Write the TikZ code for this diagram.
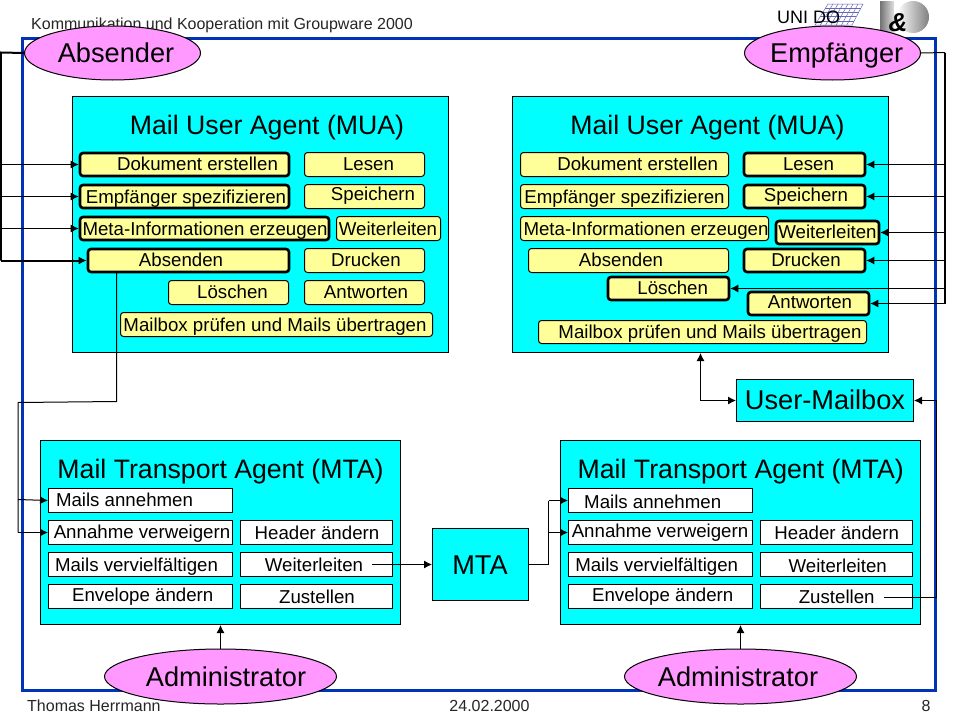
\documentclass[tikz,border=0pt]{standalone}
\usepackage{fontspec}
\setmainfont{Liberation Sans}
\usetikzlibrary{arrows.meta,fit,shapes.geometric}
\definecolor{agentc}{HTML}{00FFFF}
\definecolor{taskc}{HTML}{FFFF99}
\definecolor{actorc}{HTML}{FF99FF}
\definecolor{framec}{HTML}{0033B8}
\newcommand\bx[9]{\node[#6,fit={(#2,#3)(#4,#5)}] (#1) {}; \node[lbl] (#1-t) at (#7,#8) {#9};}
\newcommand\actor[7]{\node[actorbox,minimum width=#4,minimum height=#5] (#1) at (#2,#3) {}; \node[bigger] (#1-t) at (#6,#3) {#7};}
\tikzset{
 lbl/.style={inner sep=0pt,text height=13.4pt,text depth=0pt,font=\fontsize{18.67}{22}\selectfont},
 big/.style={inner sep=0pt,text height=19.1pt,text depth=0pt,font=\fontsize{26.67}{31}\selectfont},
 bigger/.style={inner sep=0pt,text height=19.5pt,text depth=0pt,font=\fontsize{27.2}{31}\selectfont},
 foot/.style={inner sep=0pt,text height=11.5pt,text depth=0pt,font=\fontsize{16}{19}\selectfont,text=black!85},
 agent/.style={draw=black,fill=agentc,line width=1pt,inner sep=0pt},
 task/.style={draw=black,fill=taskc,line width=1pt,rounded corners=3pt,inner sep=0pt},
 hot/.style={draw=black,fill=taskc,line width=2.6pt,rounded corners=3pt,inner sep=0pt},
 plain/.style={draw=black,fill=white,line width=1pt,inner sep=0pt},
 actorbox/.style={ellipse,draw=black,fill=actorc,line width=1pt,inner sep=0pt},
 wire/.style={draw=black,line width=1pt},
 wirefat/.style={draw=black,line width=2pt},
 arr/.style={-{Latex[length=8pt,width=8pt]}},
}
\begin{document}
\begin{tikzpicture}[x=1pt,y=-1pt]
\useasboundingbox (0,0) rectangle (960,720);
\fill[white] (0,0) rectangle (960,720);
% page furniture
\node[foot,anchor=west] (head) at (31,24) {Kommunikation und Kooperation mit Groupware 2000};
\node[foot,anchor=west] (author) at (27,706) {Thomas Herrmann};
\node[foot] (date) at (489.5,706) {24.02.2000};
\node[foot] (pageno) at (926,706) {8};
% logos
\fill[white,draw=black!45!blue!60,line width=.5pt] (828,4)--(863,4)--(852,25)--(815,25)--cycle;
\foreach \i in {1,...,6}{\draw[black!45!blue!60,line width=.5pt] (828+5*\i,4)--(815+5.3*\i,25);}
\foreach \i in {1,...,4}{\draw[black!45!blue!60,line width=.5pt] (828-2.6*\i,4+4.2*\i)--(863-2.2*\i,4+4.2*\i);}
\node[inner sep=0pt,text height=13pt,text depth=0pt,anchor=west,font=\fontsize{18}{20}\selectfont] (unido) at (777,17) {UNI DO};
\shade[left color=black!55,right color=black!12] (880,1) rectangle (894,33);
\shade[left color=white,right color=black!50] (913,17) circle (16);
\node[inner sep=0pt,text height=18.6pt,text depth=0pt,font=\fontsize{26}{28}\bfseries\itshape\selectfont] (ig) at (898,22) {\&};
% frame
\draw[framec,line width=3pt] (22,38) rectangle (935,690);
% MUA left
\node[agent,fit={(72.5,96.5)(448.5,352.5)}] (muaL) {};
\node[big] (muaL-t) at (267,125) {Mail User Agent (MUA)};
\bx{lDok}{80}{153}{289}{176}{hot}{197.5}{164}{Dokument erstellen}
\bx{lLes}{304.5}{152.5}{424.5}{176.5}{task}{368.5}{164}{Lesen}
\bx{lEmp}{80}{185}{289}{208}{hot}{186}{197}{Empfänger spezifizieren}
\bx{lSpe}{304.5}{184.5}{424.5}{208.5}{task}{373}{194}{Speichern}
\bx{lMet}{80}{217}{329}{240}{hot}{205}{229}{Meta-Informationen erzeugen}
\bx{lWei}{336.5}{216.5}{440.5}{240.5}{task}{388}{229}{Weiterleiten}
\bx{lAbs}{88}{249}{289}{272}{hot}{181}{260}{Absenden}
\bx{lDru}{304.5}{248.5}{424.5}{272.5}{task}{366}{260}{Drucken}
\bx{lLoe}{168.5}{280.5}{288.5}{304.5}{task}{232.5}{292}{Löschen}
\bx{lAnt}{304.5}{280.5}{424.5}{304.5}{task}{366}{292}{Antworten}
\bx{lMai}{120.5}{312.5}{432.5}{336.5}{task}{275}{325}{Mailbox prüfen und Mails übertragen}
% MUA right
\node[agent,fit={(512.5,96.5)(888.5,352.5)}] (muaR) {};
\node[big] (muaR-t) at (707.5,125) {Mail User Agent (MUA)};
\bx{rDok}{520.5}{152.5}{728.5}{176.5}{task}{637.7}{164}{Dokument erstellen}
\bx{rEmp}{520.5}{184.5}{728.5}{208.5}{task}{624.5}{197}{Empfänger spezifizieren}
\bx{rMet}{520.5}{216.5}{768.5}{240.5}{task}{646}{229}{Meta-Informationen erzeugen}
\bx{rAbs}{528.5}{248.5}{728.5}{272.5}{task}{621}{260}{Absenden}
\bx{rLes}{744}{153}{865}{176}{hot}{808.5}{164}{Lesen}
\bx{rSpe}{744}{185}{865}{208}{hot}{806}{195}{Speichern}
\bx{rWei}{776}{221}{879}{244}{hot}{827.5}{232}{Weiterleiten}
\bx{rDru}{744}{249}{865}{272}{hot}{806}{260}{Drucken}
\bx{rLoe}{608}{277}{729}{300}{hot}{672.7}{288}{Löschen}
\bx{rAnt}{748}{292}{869}{315}{hot}{810}{302}{Antworten}
\bx{rMai}{538.5}{320.5}{866.5}{343.5}{task}{710}{332}{Mailbox prüfen und Mails übertragen}
% User mailbox, relay MTA
\node[agent,fit={(736.5,379.5)(913.5,421.5)}] (ubox) {};
\node[bigger] (ubox-t) at (825,400) {User-Mailbox};
\node[agent,fit={(432.5,528.5)(528.5,600.5)}] (relay) {};
\node[bigger] (relay-t) at (480,565) {MTA};
% MTA left
\node[agent,fit={(40.5,440.5)(400.5,624.5)}] (mtaL) {};
\node[big] (mtaL-t) at (220.5,469) {Mail Transport Agent (MTA)};
\bx{aAnn}{48.5}{488.5}{232.5}{512.5}{plain}{124.5}{500}{Mails annehmen}
\bx{aVer}{48.5}{520.5}{232.5}{544.5}{plain}{142}{532}{Annahme verweigern}
\bx{aVie}{48.5}{552.5}{232.5}{576.5}{plain}{136.5}{564.5}{Mails vervielfältigen}
\bx{aEnv}{48.5}{584.5}{232.5}{608.5}{plain}{142.7}{595}{Envelope ändern}
\bx{aHea}{240.5}{520.5}{392.5}{544.5}{plain}{317}{533}{Header ändern}
\bx{aWei}{240.5}{552.5}{392.5}{576.5}{plain}{314}{564.5}{Weiterleiten}
\bx{aZus}{240.5}{584.5}{392.5}{608.5}{plain}{317}{597}{Zustellen}
% MTA right
\node[agent,fit={(560.5,440.5)(920.5,624.5)}] (mtaR) {};
\node[big] (mtaR-t) at (740.7,469) {Mail Transport Agent (MTA)};
\bx{bAnn}{568.5}{488.5}{752.5}{512.5}{plain}{652.7}{501.5}{Mails annehmen}
\bx{bVer}{568.5}{520.5}{752.5}{544.5}{plain}{660}{530.5}{Annahme verweigern}
\bx{bVie}{568.5}{552.5}{752.5}{576.5}{plain}{656.7}{564.5}{Mails vervielfältigen}
\bx{bEnv}{568.5}{584.5}{752.5}{608.5}{plain}{662.7}{595}{Envelope ändern}
\bx{bHea}{760.5}{520.5}{912.5}{544.5}{plain}{836.7}{533}{Header ändern}
\bx{bWei}{760.5}{552.5}{912.5}{576.5}{plain}{837.7}{565.5}{Weiterleiten}
\bx{bZus}{760.5}{584.5}{912.5}{608.5}{plain}{836.7}{597}{Zustellen}
% actors
\actor{absender}{112.5}{53}{176pt}{54pt}{116}{Absender}
\actor{empf}{832.5}{53}{176pt}{54pt}{836.7}{Empfänger}
\actor{adminL}{220.5}{676.5}{232pt}{55pt}{226}{Administrator}
\actor{adminR}{740.5}{676.5}{232pt}{55pt}{738}{Administrator}
% coordinates
\coordinate (sTop) at (0.8,52.5);
\coordinate (sBot) at (0.8,260.5);
\coordinate (eTop) at (945,52.5);
\coordinate (eBot) at (945,303.5);
\coordinate (dropA) at (116.5,272);
\coordinate (dropB) at (116.5,401.5);
\coordinate (dropC) at (18,402.5);
\coordinate (dropD) at (18,532.5);
\coordinate (relayOut) at (548.5,564.5);
\coordinate (relayMid) at (548.5,532.5);
\coordinate (relayTop) at (548.5,500.5);
\coordinate (aWeiOut) at (372,564.5);
\coordinate (bZusOut) at (884,597.5);
\coordinate (frameA) at (936.5,597.5);
\coordinate (frameB) at (936.5,400.5);
\coordinate (mbTop) at (700.5,353);
\coordinate (mbCorner) at (700.5,400.5);
\coordinate (adL) at (220.5,625);
\coordinate (adR) at (740.5,625);
% sender wires
\draw[wirefat] (absender.west) -- (sTop) -- (sBot);
\draw[wirefat,arr] (sBot) -- (lAbs.west);
\draw[wire,arr] (0,164.5) -- (lDok.west);
\draw[wire,arr] (0,196.5) -- (lEmp.west);
\draw[wire,arr] (0,228.5) -- (lMet.west);
% recipient wires
\draw[wire] (empf.east) -- (eTop);
\draw[wire,line width=1.5pt] (eTop) -- (eBot);
\draw[wire,arr] (eBot) -- (rAnt.east);
\draw[wire,arr] (945,164.5) -- (rLes.east);
\draw[wire,arr] (945,196.5) -- (rSpe.east);
\draw[wire,arr] (945,232.5) -- (rWei.east);
\draw[wire,arr] (945,260.5) -- (rDru.east);
\draw[wire,arr] (945,288.5) -- (rLoe.east);
% transport
\draw[wire] (dropA) -- (dropB) -- (dropC) -- (dropD);
\draw[wire,arr] (dropD) -- (aVer.west);
\draw[wire,arr] (18,499.5) -- (aAnn.west);
\draw[wire,arr] (aWeiOut) -- (relay.west);
\draw[wire] (relay.east) -- (relayOut) -- (relayTop);
\draw[wire,arr] (relayTop) -- (bAnn.west);
\draw[wire,arr] (relayMid) -- (bVer.west);
\draw[wire] (bZusOut) -- (frameA) -- (frameB);
\draw[wire,arr] (frameB) -- (ubox.east);
\draw[wire,{Latex[length=8pt,width=8pt]}-{Latex[length=8pt,width=8pt]}] (mbTop) -- (mbCorner) -- (ubox.west);
\draw[wire,arr] (adminL.north) -- (adL);
\draw[wire,arr] (adminR.north) -- (adR);
\end{tikzpicture}
\end{document}
